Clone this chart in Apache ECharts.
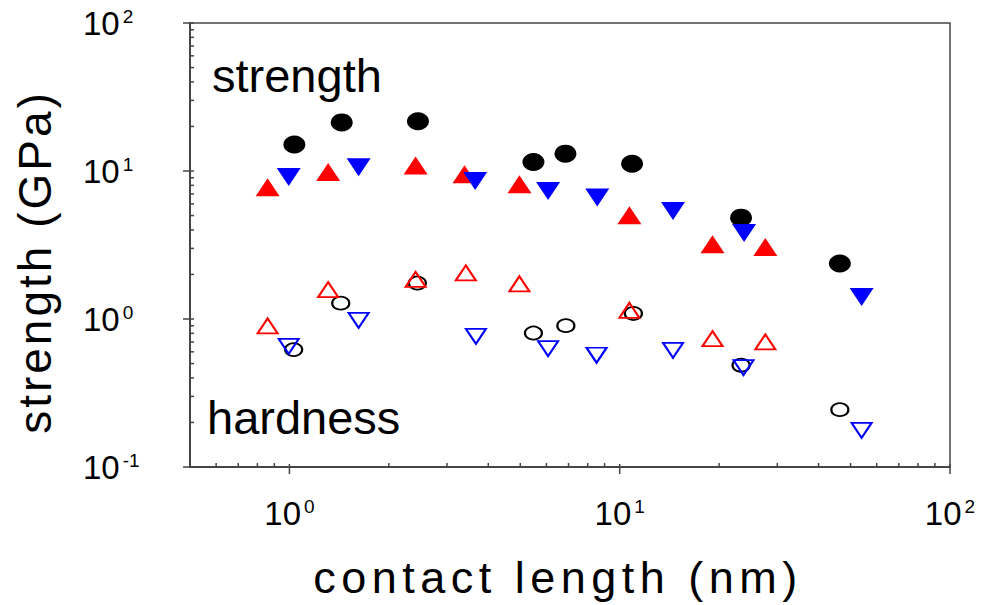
<!DOCTYPE html>
<html>
<head>
<meta charset="utf-8">
<script src="https://cdn.jsdelivr.net/npm/echarts@6/dist/echarts.min.js"></script>
<style>
html,body{margin:0;padding:0;background:#fff;}
#c{width:990px;height:605px;}
</style>
</head>
<body>
<div id="c"></div>
<script>
// ---- data: [contact length (nm), value (GPa)] ----
const strengthBlack = [[1.035,15.1],[1.44,21.3],[2.45,21.7],[5.48,11.5],[6.85,13.1],[10.9,11.2],[23.3,4.84],[46.4,2.37]];
const strengthRed   = [[0.859,7.76],[1.31,9.85],[2.41,10.9],[3.39,9.5],[4.97,8.13],[10.7,5.02],[19.1,3.2],[27.6,3.07]];
const strengthBlue  = [[0.995,9.11],[1.62,10.6],[3.65,8.56],[6.07,7.33],[8.55,6.61],[14.5,5.37],[23.8,3.81],[54.0,1.41]];
const hardnessBlack = [[1.03,0.621],[1.43,1.28],[2.44,1.75],[5.48,0.804],[6.87,0.902],[11.0,1.09],[23.3,0.487],[46.4,0.244]];
const hardnessRed   = [[0.859,0.897],[1.31,1.58],[2.41,1.85],[3.42,2.05],[4.97,1.73],[10.7,1.145],[19.1,0.737],[27.6,0.70]];
const hardnessBlue  = [[0.995,0.654],[1.62,0.98],[3.67,0.764],[6.07,0.631],[8.51,0.569],[14.5,0.614],[23.7,0.47],[54.0,0.177]];

const X_MIN = 0.5, X_MAX = 100, Y_MIN = 0.1, Y_MAX = 100;
const xMajorTicks = [1, 10, 100];
const xMinorTicks = [0.6,0.7,0.8,0.9, 2,3,4,5,6,7,8,9, 20,30,40,50,60,70,80,90];
const yMajorTicks = [0.1, 1, 10, 100];
const yMinorTicks = [0.2,0.3,0.4,0.5,0.6,0.7,0.8,0.9, 2,3,4,5,6,7,8,9, 20,30,40,50,60,70,80,90];

const X_TITLE = 'contact length (nm)';
const Y_TITLE = 'strength (GPa)';
const NOTE_TOP = 'strength';
const NOTE_BOTTOM = 'hardness';

const FONT = '"Liberation Sans", Arial, Helvetica, sans-serif';
const AXIS_COLOR = '#454545';

function powLabel(v) {
  const l = Math.log10(v);
  const e = Math.round(l);
  if (Math.abs(l - e) > 1e-6) return '';
  return '10{s|' + (e < 0 ? '-' + (-e) : e) + '}';
}

const labelRich = {
  s: { fontSize: 19, lineHeight: 19, verticalAlign: 'top', padding: [0, 0, 0, 3], fontFamily: FONT, color: '#000' }
};

function tickSeries(values, dir, outLen, inLen) {
  return {
    type: 'custom', silent: true, clip: false, z: 6,
    data: values.map(v => dir === 'x' ? [v, Y_MIN] : [X_MIN, v]),
    renderItem: function (params, api) {
      const p = api.coord([api.value(0), api.value(1)]);
      const shape = dir === 'x'
        ? { x1: p[0], y1: p[1] + outLen, x2: p[0], y2: p[1] - inLen }
        : { x1: p[0] - outLen, y1: p[1], x2: p[0] + inLen, y2: p[1] };
      return { type: 'line', shape: shape, style: { stroke: AXIS_COLOR, lineWidth: 1.5 } };
    }
  };
}

function filled(name, data, color, symbol, size, rotate) {
  return {
    name: name, type: 'scatter', data: data, symbol: symbol, symbolSize: size,
    symbolRotate: rotate || 0, z: 3,
    itemStyle: { color: color, opacity: 1 }
  };
}
function open(name, data, color, symbol, size, rotate) {
  return {
    name: name, type: 'scatter', data: data, symbol: symbol, symbolSize: size,
    symbolRotate: rotate || 0, z: 4,
    itemStyle: { color: 'rgba(0,0,0,0)', borderColor: color, borderWidth: 2, opacity: 1 }
  };
}

const option = {
  animation: false,
  backgroundColor: '#fff',
  grid: { left: 190, right: 40, top: 23, bottom: 138, show: true, borderColor: AXIS_COLOR, borderWidth: 1.5, backgroundColor: 'rgba(0,0,0,0)' },
  xAxis: {
    type: 'log', logBase: 10, min: X_MIN, max: X_MAX,
    axisLine: { show: true, lineStyle: { color: AXIS_COLOR, width: 2 } },
    axisTick: { show: false },
    splitLine: { show: false },
    axisLabel: {
      formatter: powLabel, fontSize: 33, lineHeight: 33, fontFamily: FONT, color: '#000',
      margin: 30, rich: labelRich, showMinLabel: true, showMaxLabel: true
    }
  },
  yAxis: {
    type: 'log', logBase: 10, min: Y_MIN, max: Y_MAX,
    axisLine: { show: true, lineStyle: { color: AXIS_COLOR, width: 2 } },
    axisTick: { show: false },
    splitLine: { show: false },
    axisLabel: {
      formatter: powLabel, fontSize: 33, lineHeight: 33, fontFamily: FONT, color: '#000',
      margin: 107, align: 'left', rich: labelRich, showMinLabel: true, showMaxLabel: true
    }
  },
  graphic: [
    { type: 'text', x: 212, y: 75, style: { text: NOTE_TOP, fontSize: 47, fontFamily: FONT, fill: '#000', align: 'left', verticalAlign: 'middle' } },
    { type: 'text', x: 207, y: 417, style: { text: NOTE_BOTTOM, fontSize: 47, fontFamily: FONT, fill: '#000', align: 'left', verticalAlign: 'middle' } },
    { type: 'text', x: 558, y: 577, style: { text: X_TITLE, fontSize: 45, fontFamily: FONT, fill: '#000', align: 'center', verticalAlign: 'middle' } },
    { type: 'text', x: 35, y: 262, rotation: Math.PI / 2, style: { text: Y_TITLE, fontSize: 46, fontFamily: FONT, fill: '#000', align: 'center', verticalAlign: 'middle' } }
  ],
  series: [
    filled('strength (black)', strengthBlack, '#000000', 'circle', [22, 18]),
    filled('strength (red)', strengthRed, '#ff0000', 'triangle', [24, 18]),
    filled('strength (blue)', strengthBlue, '#0000ff', 'triangle', [24, 18], 180),
    open('hardness (black)', hardnessBlack, '#000000', 'circle', [17, 13]),
    open('hardness (red)', hardnessRed, '#ff0000', 'triangle', [20, 15]),
    open('hardness (blue)', hardnessBlue, '#0000ff', 'triangle', [20, 15], 180),
    tickSeries(xMajorTicks, 'x', 7, 3),
    tickSeries(xMinorTicks, 'x', 0, 4),
    tickSeries(yMajorTicks, 'y', 7, 4),
    tickSeries(yMinorTicks, 'y', 0, 4)
  ]
};

const dom = document.getElementById('c');
const chart = echarts.init(dom, null, { renderer: 'svg' });
chart.setOption(option);

function spaceTitles() {
  dom.querySelectorAll('text').forEach(function (t) {
    const s = t.textContent;
    if (s === X_TITLE) t.setAttribute('letter-spacing', '5.5');
    else if (s === Y_TITLE) t.setAttribute('letter-spacing', '3');
  });
}
spaceTitles();
chart.on('finished', spaceTitles);
setTimeout(spaceTitles, 50);
setTimeout(spaceTitles, 300);
</script>
</body>
</html>
